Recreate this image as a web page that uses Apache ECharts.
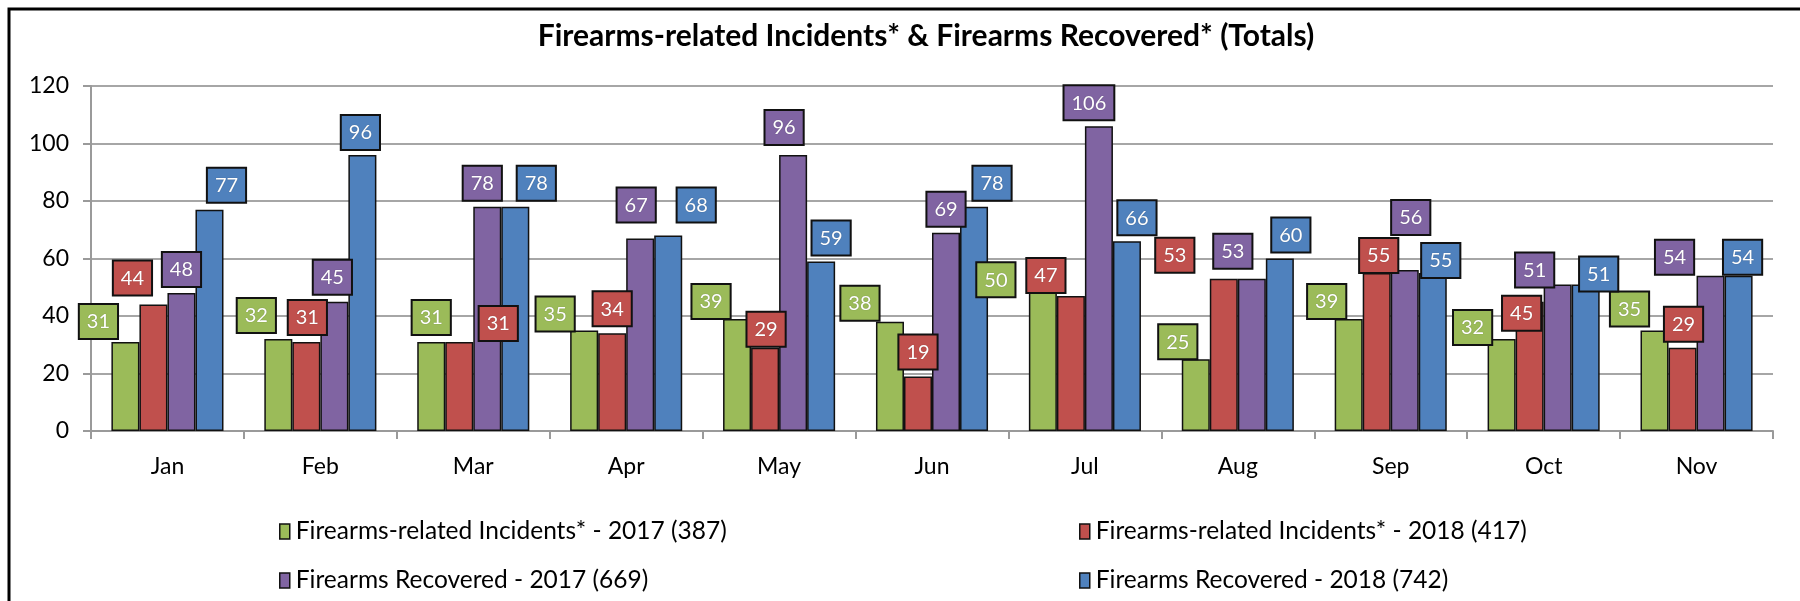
<!DOCTYPE html>
<html>
<head>
<meta charset="utf-8">
<script src="https://cdn.jsdelivr.net/npm/echarts@6/dist/echarts.min.js"></script>
<style>
  html, body { margin: 0; padding: 0; background: #fff; }
  #chart { width: 1800px; height: 601px; }
</style>
</head>
<body>
<div id="chart"></div>
<script>
const months = ['Jan', 'Feb', 'Mar', 'Apr', 'May', 'Jun', 'Jul', 'Aug', 'Sep', 'Oct', 'Nov'];
const incidents2017 = [31, 32, 31, 35, 39, 38, 50, 25, 39, 32, 35];
const incidents2018 = [44, 31, 31, 34, 29, 19, 47, 53, 55, 45, 29];
const recovered2017 = [48, 45, 78, 67, 96, 69, 106, 53, 56, 51, 54];
const recovered2018 = [77, 96, 78, 68, 59, 78, 66, 60, 55, 51, 54];
const seriesNames = [
  'Firearms-related Incidents* - 2017 (387)',
  'Firearms-related Incidents* - 2018 (417)',
  'Firearms Recovered - 2017 (669)',
  'Firearms Recovered - 2018 (742)'
];

// label boxes were hand placed in the original, so keep their nudges (px) apart from the data
const labelNudge = [
  [[-27, -4], [-22, -7], [0, -8], [-29, 0], [-26, -1], [-30, -2], [-47, 9], [-18, -1], [-22, -1], [-29, 5], [-25, -5]],
  [[-21, -10], [1, -8], [39, -2], [0, -8], [1, -2], [0, -8], [-25, -4], [-49, -7], [2, -1], [-8, 28], [1, -7]],
  [[0, -7], [-2, -8], [-5, -7], [-4, -17], [-9, -11], [0, -7], [-10, -7], [-19, -11], [6, -36], [-23, 2], [-36, -2]],
  [[17, -8], [-2, -6], [21, -7], [28, -14], [10, -7], [18, -7], [10, -7], [11, -7], [8, 4], [13, 6], [4, -2]]
];

const COLORS = ['#9bbb59', '#c0504d', '#8064a2', '#4f81bd'];
const FONT = 'Lato, "Open Sans", sans-serif';

const makeSeries = (name, values, idx) => ({
  name,
  type: 'bar',
  barGap: '0%',
  barCategoryGap: '26.7%',
  itemStyle: { color: COLORS[idx], borderColor: '#111', borderWidth: 1.5 },
  data: values.map((v, i) => ({
    value: v,
    label: { offset: labelNudge[idx][i] }
  })),
  label: {
    show: true,
    position: 'top',
    distance: 0,
    color: '#fff',
    fontFamily: FONT,
    fontSize: 20,
    lineHeight: 20,
    padding: [7, 7, 6, 7],
    backgroundColor: COLORS[idx],
    borderColor: '#111',
    borderWidth: 2,
    textShadowColor: 'rgba(0,0,0,0.35)',
    textShadowBlur: 1
  }
});

// one legend per entry, laid out in two columns like the original
const legendSpots = [[279, 519], [1079, 519], [279, 568], [1079, 568]];
const legends = seriesNames.map((name, i) => ({
  left: legendSpots[i][0],
  top: legendSpots[i][1],
  padding: 0,
  itemWidth: 10,
  itemHeight: 15,
  icon: 'rect',
  itemStyle: { borderColor: '#111', borderWidth: 1.5 },
  textStyle: { fontFamily: FONT, fontSize: 24.5, color: '#000', padding: [0, 0, 0, 1] },
  data: [name]
}));

const chart = echarts.init(document.getElementById('chart'));

chart.setOption({
  backgroundColor: '#fff',
  animation: false,
  title: {
    text: 'Firearms-related Incidents* & Firearms Recovered* (Totals)',
    left: 921,
    textAlign: 'center',
    top: 16,
    textStyle: { fontFamily: FONT, fontWeight: 'bold', fontSize: 30, color: '#000' }
  },
  grid: { left: 91, right: 27, top: 86, bottom: 170 },
  legend: legends,
  xAxis: {
    type: 'category',
    data: months,
    axisLine: { lineStyle: { color: '#9a9a9a', width: 2 } },
    axisTick: { show: true, length: 8, lineStyle: { color: '#9a9a9a', width: 2 } },
    axisLabel: { fontFamily: FONT, fontSize: 23, color: '#000', margin: 24 }
  },
  yAxis: {
    type: 'value',
    min: 0,
    max: 120,
    interval: 20,
    axisLine: { show: true, lineStyle: { color: '#9a9a9a', width: 2 } },
    axisTick: { show: true, length: 8, lineStyle: { color: '#9a9a9a', width: 2 } },
    axisLabel: { fontFamily: FONT, fontSize: 23, color: '#000', margin: 22 },
    splitLine: { lineStyle: { color: '#a6a6a6', width: 2 } }
  },
  graphic: [
    {
      type: 'rect',
      shape: { x: 9, y: 9, width: 1810, height: 700 },
      style: { fill: 'none', stroke: '#000', lineWidth: 3 },
      silent: true,
      z: 100
    }
  ],
  series: [
    makeSeries(seriesNames[0], incidents2017, 0),
    makeSeries(seriesNames[1], incidents2018, 1),
    makeSeries(seriesNames[2], recovered2017, 2),
    makeSeries(seriesNames[3], recovered2018, 3)
  ]
});
</script>
</body>
</html>
